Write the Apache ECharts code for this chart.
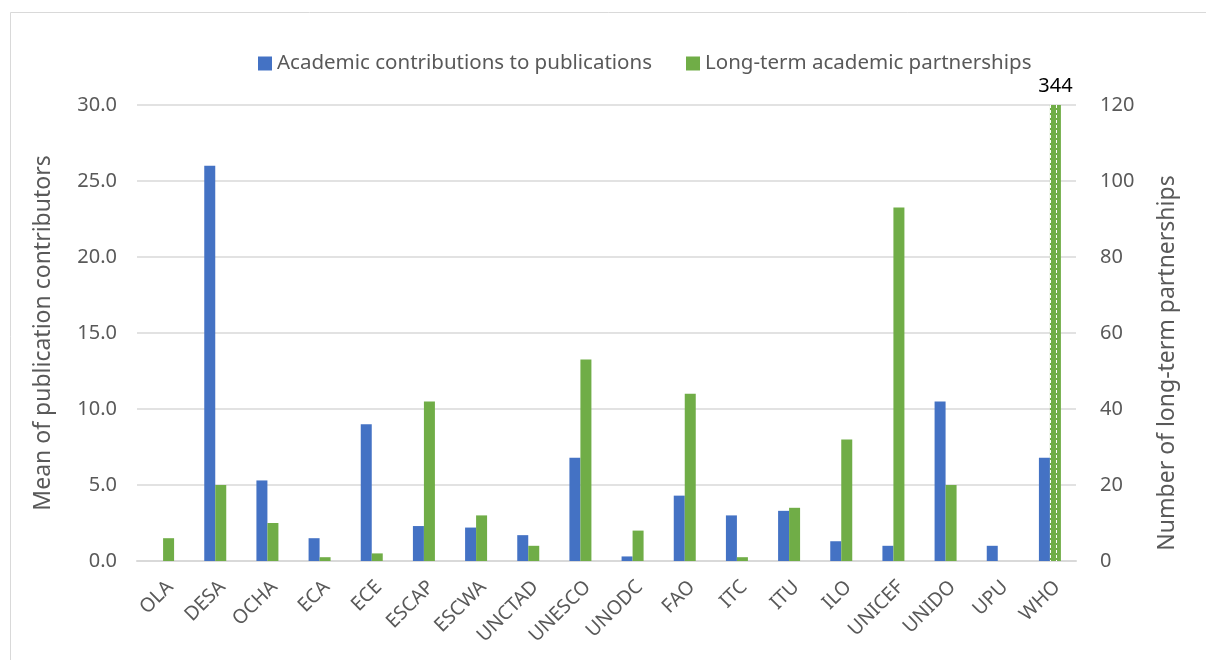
<!DOCTYPE html>
<html>
<head>
<meta charset="utf-8">
<script src="https://cdn.jsdelivr.net/npm/echarts@6/dist/echarts.min.js"></script>
<style>html,body{margin:0;padding:0;background:#fff}#c{width:1206px;height:660px}</style>
</head>
<body>
<div id="c"></div>
<script>
const categories = ['OLA','DESA','OCHA','ECA','ECE','ESCAP','ESCWA','UNCTAD','UNESCO','UNODC','FAO','ITC','ITU','ILO','UNICEF','UNIDO','UPU','WHO'];
const publicationContributors = [0, 26.0, 5.3, 1.5, 9.0, 2.3, 2.2, 1.7, 6.8, 0.3, 4.3, 3.0, 3.3, 1.3, 1.0, 10.5, 1.0, 6.8];
const longTermPartnerships = [6, 20, 10, 1, 2, 42, 12, 4, 53, 8, 44, 1, 14, 32, 93, 20, 0, 344];
const leftTicks = {min: 0, max: 30, interval: 5};
const rightTicks = {min: 0, max: 120, interval: 20};

const FONT = 'Noto Sans';
const TXT = '#595959';

const greenData = longTermPartnerships.map(v => {
  if (v > rightTicks.max) {
    return {
      value: rightTicks.max,
      itemStyle: {
        color: '#70AD47',
        decal: {symbol: 'rect', symbolSize: 1, color: '#ffffff', dashArrayX: [1, 5], dashArrayY: [3, 2], rotation: 0}
      },
      label: {show: true, position: 'top', formatter: String(v), color: '#000', fontSize: 20, fontFamily: FONT, distance: 9}
    };
  }
  return {value: v};
});

const chart = echarts.init(document.getElementById('c'), null, {renderer: 'canvas'});
chart.setOption({
  backgroundColor: '#fff',
  animation: false,
  graphic: [{
    type: 'rect', shape: {x: 10.5, y: 12.5, width: 1250, height: 700},
    style: {fill: 'none', stroke: '#d9d9d9', lineWidth: 1}, silent: true, z: -1
  }],
  legend: {
    top: 48, left: 253, itemWidth: 14, itemHeight: 14, itemGap: 34,
    icon: 'rect',
    textStyle: {color: TXT, fontSize: 20.5, fontFamily: FONT},
    data: ['Academic contributions to publications', 'Long-term academic partnerships']
  },
  grid: {left: 137, right: 130, top: 105, bottom: 99, containLabel: false},
  xAxis: {
    type: 'category', data: categories,
    axisLine: {show: true, lineStyle: {color: '#d9d9d9', width: 2}},
    axisTick: {show: false},
    axisLabel: {rotate: 45, color: TXT, fontSize: 19.5, fontFamily: FONT, margin: 30, interval: 0, padding: [0, -10, 0, 0]}
  },
  yAxis: [{
    type: 'value', min: leftTicks.min, max: leftTicks.max, interval: leftTicks.interval,
    name: 'Mean of publication contributors', nameLocation: 'middle', nameGap: 82,
    nameTextStyle: {color: TXT, fontSize: 23, fontFamily: FONT},
    axisLine: {show: false}, axisTick: {show: false},
    axisLabel: {color: TXT, fontSize: 20, fontFamily: FONT, margin: 20, formatter: v => v.toFixed(1)},
    splitLine: {lineStyle: {color: '#d9d9d9', width: 1.5}}
  }, {
    type: 'value', min: rightTicks.min, max: rightTicks.max, interval: rightTicks.interval,
    name: 'Number of long-term partnerships', nameLocation: 'middle', nameGap: 80,
    nameTextStyle: {color: TXT, fontSize: 23, fontFamily: FONT, padding: [0, 60, 0, 0]},
    axisLine: {show: false}, axisTick: {show: false},
    axisLabel: {color: TXT, fontSize: 20, fontFamily: FONT, margin: 24},
    splitLine: {show: false}
  }],
  series: [{
    name: 'Academic contributions to publications', type: 'bar', yAxisIndex: 0,
    data: publicationContributors, barWidth: 11, barGap: '0%',
    itemStyle: {color: '#4472C4'}
  }, {
    name: 'Long-term academic partnerships', type: 'bar', yAxisIndex: 1,
    data: greenData, barWidth: 11, barGap: '0%',
    itemStyle: {color: '#70AD47'}
  }]
});
</script>
</body>
</html>
